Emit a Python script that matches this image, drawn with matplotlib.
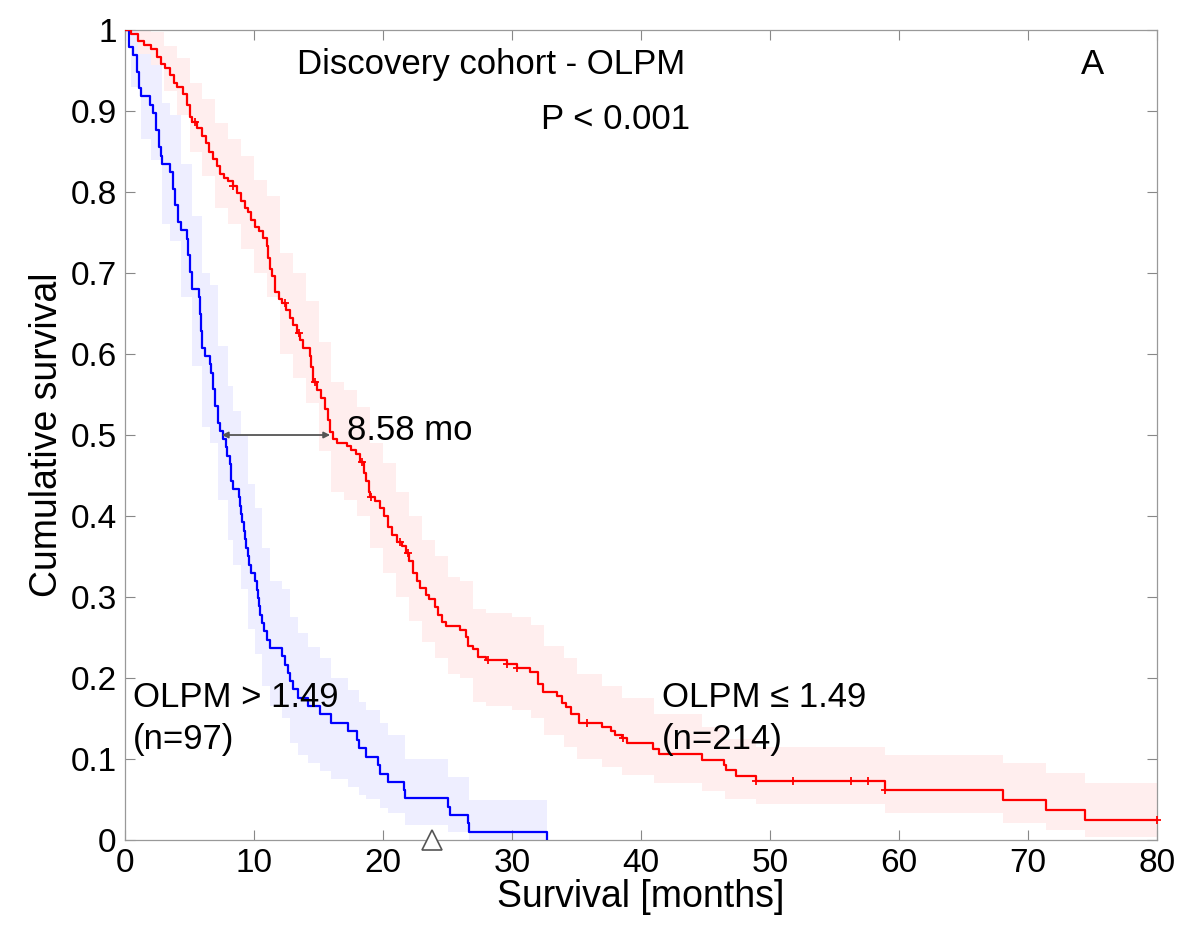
import numpy as np
import matplotlib
matplotlib.use("Agg")
import matplotlib.pyplot as plt

plt.rcParams['font.family'] = ['Liberation Sans', 'DejaVu Sans']

# ---- data ----
blue_t = [0, 0.3, 0.6, 0.9, 1.1, 1.2, 1.9, 2.2, 2.4, 2.6, 2.8, 2.9, 3.5, 3.7, 3.9, 4.1, 4.3,
          4.8, 4.9, 5.0, 5.2, 5.7, 5.8, 5.9, 6.0, 6.2, 6.6, 6.7, 6.8, 7.0, 7.2, 7.4, 7.6, 7.8,
          7.9, 8.1, 8.2, 8.4, 8.8, 8.9, 9.0, 9.1, 9.2, 9.3, 9.4, 9.5, 9.6, 9.8, 10.1, 10.2,
          10.3, 10.4, 10.5, 10.6, 10.8, 11.0, 11.2, 12.2, 12.4, 12.6, 12.8, 13.0, 13.4, 14.2,
          15.1, 16.0, 17.3, 18.0, 18.1, 18.7, 19.6, 19.8, 20.4, 21.6, 21.7, 25.0, 25.2, 26.6,
          26.7, 32.7]
blue_s = [1.0, 0.979, 0.969, 0.948, 0.928, 0.918, 0.907, 0.897, 0.876, 0.856, 0.845, 0.835,
          0.825, 0.804, 0.784, 0.763, 0.753, 0.742, 0.722, 0.701, 0.680, 0.670, 0.649, 0.629,
          0.608, 0.598, 0.588, 0.577, 0.557, 0.536, 0.515, 0.505, 0.495, 0.485, 0.474, 0.464,
          0.443, 0.433, 0.423, 0.412, 0.402, 0.392, 0.381, 0.371, 0.361, 0.351, 0.340, 0.330,
          0.320, 0.309, 0.299, 0.289, 0.278, 0.268, 0.258, 0.247, 0.237, 0.227, 0.216, 0.206,
          0.196, 0.186, 0.175, 0.165, 0.155, 0.144, 0.134, 0.124, 0.113, 0.103, 0.093, 0.082,
          0.072, 0.062, 0.052, 0.041, 0.031, 0.021, 0.010, 0.0]

blue_band_t = [0, 0.5, 1.2, 2.0, 2.9, 3.5, 4.3, 5.2, 6.0, 6.6, 7.2, 8.0, 8.4, 9.0, 9.5, 10.1,
               10.6, 11.2, 12.2, 12.8, 13.4, 14.2, 15.1, 16.0, 17.3, 18.1, 18.7, 19.8, 20.4,
               21.7, 25.0, 26.7, 32.7]
blue_band_lo = [1.0, 0.93, 0.865, 0.84, 0.76, 0.74, 0.67, 0.585, 0.51, 0.49, 0.42, 0.37, 0.34,
                0.31, 0.26, 0.23, 0.19, 0.165, 0.15, 0.12, 0.105, 0.095, 0.085, 0.075, 0.065,
                0.055, 0.05, 0.04, 0.033, 0.018, 0.01, 0.0, 0.0]
blue_band_hi = [1.0, 1.0, 0.97, 0.96, 0.91, 0.895, 0.835, 0.77, 0.70, 0.685, 0.61, 0.56, 0.53,
                0.50, 0.44, 0.41, 0.36, 0.32, 0.31, 0.275, 0.255, 0.238, 0.225, 0.20, 0.185,
                0.17, 0.16, 0.145, 0.13, 0.10, 0.078, 0.049, 0.049]

red_t = [0, 0.5, 1.0, 1.5, 2.0, 2.5, 2.8, 3.1, 3.5, 3.8, 4.0, 4.5, 4.8, 5.0, 5.2, 5.6, 6.0, 6.3,
         6.5, 6.8, 7.1, 7.4, 7.7, 8.0, 8.4, 8.7, 9.0, 9.3, 9.5, 9.8, 10.1, 10.4, 10.7, 11.0, 11.1,
         11.2, 11.4, 11.6, 11.9, 12.2, 12.5, 12.8, 13.0, 13.3, 13.6, 13.8, 14.3, 14.4, 14.6,
         14.9, 15.2, 15.5, 15.7, 15.9, 16.1, 16.4, 17.2, 17.5, 17.9, 18.2, 18.5, 18.7, 18.9,
         19.0, 19.4, 19.8, 20.1, 20.4, 20.7, 21.1, 21.5, 21.8, 22.0, 22.3, 22.6, 22.9, 23.3,
         23.6, 24.0, 24.3, 24.6, 24.9, 26.0, 26.4, 26.6, 27.0, 27.4, 28.0, 29.6, 30.4, 31.4,
         32.0, 32.4, 33.5, 33.9, 34.2, 34.6, 35.2, 37.0, 37.7, 38.0, 38.5, 38.9, 40.9, 41.4,
         44.7, 46.4, 46.6, 47.4, 48.9, 58.9, 68.1, 71.4, 74.4, 80.0]
red_s = [1.0, 0.995, 0.986, 0.981, 0.977, 0.967, 0.958, 0.953, 0.944, 0.935, 0.930, 0.921,
         0.907, 0.893, 0.886, 0.879, 0.869, 0.860, 0.850, 0.841, 0.832, 0.822, 0.817, 0.813,
         0.808, 0.799, 0.789, 0.780, 0.775, 0.766, 0.757, 0.752, 0.743, 0.733, 0.719, 0.705,
         0.696, 0.677, 0.668, 0.663, 0.654, 0.645, 0.636, 0.626, 0.617, 0.608, 0.598, 0.584,
         0.565, 0.556, 0.546, 0.532, 0.518, 0.504, 0.495, 0.490, 0.486, 0.481, 0.476, 0.467,
         0.453, 0.443, 0.430, 0.424, 0.419, 0.410, 0.400, 0.386, 0.377, 0.368, 0.363, 0.354,
         0.344, 0.330, 0.320, 0.311, 0.302, 0.297, 0.288, 0.278, 0.269, 0.264, 0.259, 0.250,
         0.240, 0.236, 0.226, 0.222, 0.217, 0.212, 0.207, 0.193, 0.183, 0.178, 0.169, 0.164,
         0.155, 0.145, 0.140, 0.134, 0.130, 0.126, 0.120, 0.112, 0.106, 0.099, 0.092, 0.086,
         0.079, 0.073, 0.062, 0.049, 0.037, 0.025, 0.025]
red_censor_t = [5.4, 8.4, 12.4, 13.5, 14.7, 18.4, 19.1, 21.3, 21.9, 28.1, 29.6, 30.4, 35.8,
                38.6, 48.9, 51.8, 56.3, 57.6, 58.9, 80.0]

red_band_t = [0, 1, 2, 3, 4, 5, 6, 7, 8, 9, 10, 11, 12, 13, 14, 15, 16, 17, 18, 19, 20, 21, 22,
              23, 24, 25, 26, 27, 28, 30, 31.5, 32.5, 34, 35, 37, 38.5, 41, 44.7, 46.5, 48.9,
              58.9, 68.1, 71.4, 74.4, 80]
red_band_lo = [1.0, 0.97, 0.957, 0.925, 0.895, 0.85, 0.82, 0.78, 0.76, 0.73, 0.70, 0.67, 0.60,
               0.57, 0.54, 0.48, 0.43, 0.42, 0.40, 0.36, 0.33, 0.30, 0.27, 0.245, 0.225, 0.205,
               0.20, 0.17, 0.165, 0.16, 0.15, 0.13, 0.115, 0.10, 0.09, 0.08, 0.07, 0.06, 0.05,
               0.045, 0.033, 0.021, 0.012, 0.004, 0.004]
red_band_hi = [1.0, 1.0, 0.997, 0.98, 0.965, 0.935, 0.915, 0.885, 0.865, 0.845, 0.815, 0.795,
               0.725, 0.70, 0.665, 0.615, 0.565, 0.555, 0.535, 0.49, 0.465, 0.43, 0.40, 0.37,
               0.35, 0.325, 0.32, 0.285, 0.28, 0.275, 0.265, 0.24, 0.225, 0.205, 0.19, 0.175,
               0.155, 0.14, 0.125, 0.115, 0.105, 0.095, 0.083, 0.07, 0.07]

median_blue = 7.5
median_red = 15.9
median_label = "8.58 mo"

xticks = [0, 10, 20, 30, 40, 50, 60, 70, 80]
yticks = [0, 0.1, 0.2, 0.3, 0.4, 0.5, 0.6, 0.7, 0.8, 0.9, 1.0]
ytick_labels = ['0', '0.1', '0.2', '0.3', '0.4', '0.5', '0.6', '0.7', '0.8', '0.9', '1']

TXT = 25

# ---- figure ----
fig = plt.figure(figsize=(11.83, 9.30), dpi=100)
ax = fig.add_axes([0.1057, 0.0968, 0.978 - 0.1057, 0.9677 - 0.0968])

ax.fill_between(blue_band_t, blue_band_lo, blue_band_hi, step='post',
                color='#eeeeff', lw=0, zorder=1)
ax.fill_between(red_band_t, red_band_lo, red_band_hi, step='post',
                color='#ffeeee', lw=0, zorder=1)

ax.step(blue_t, blue_s, where='post', color='#0000ff', lw=1.6, zorder=3)
ax.step(red_t, red_s, where='post', color='#ff0000', lw=1.6, zorder=3)

rt = np.array(red_t)
rs = np.array(red_s)
idx = np.searchsorted(rt, red_censor_t, side='right') - 1
ax.plot(red_censor_t, rs[idx], linestyle='none', marker='+', color='#ff0000',
        markersize=6, mew=1.3, zorder=4, clip_on=False)

# median arrow
ax.annotate('', xy=(median_blue, 0.5), xytext=(median_red, 0.5),
            arrowprops=dict(arrowstyle='<|-|>', color='#555555', lw=1.3,
                            mutation_scale=9, shrinkA=0, shrinkB=0), zorder=5)
ax.text(median_red + 1.3, 0.505, median_label, fontsize=TXT, va='center', ha='left')

# texts
ax.text(28.4, 0.957, 'Discovery cohort - OLPM', fontsize=TXT, ha='center', va='center')
ax.text(38.0, 0.889, 'P < 0.001', fontsize=TXT, ha='center', va='center')
ax.text(75.0, 0.957, 'A', fontsize=TXT, ha='center', va='center')
ax.text(0.6, 0.176, 'OLPM > 1.49', fontsize=TXT, ha='left', va='center')
ax.text(0.6, 0.124, '(n=97)', fontsize=TXT, ha='left', va='center')
ax.text(41.6, 0.176, 'OLPM \u2264 1.49', fontsize=TXT, ha='left', va='center')
ax.text(41.6, 0.124, '(n=214)', fontsize=TXT, ha='left', va='center')

ax.plot([23.8], [0.0], marker='^', markersize=14, mfc='white', mec='#555555', mew=1.2,
        clip_on=False, zorder=6)

ax.set_xlim(0, 80)
ax.set_ylim(0, 1)
ax.set_xticks(xticks)
ax.set_xticklabels([str(v) for v in xticks])
ax.set_yticks(yticks)
ax.set_yticklabels(ytick_labels)
ax.tick_params(direction='in', length=7, width=0.8, color='#888888', labelsize=24,
               top=True, right=True, pad=6)
for sp in ax.spines.values():
    sp.set_color('#999999')
    sp.set_linewidth(0.9)

ax.set_xlabel('Survival [months]', fontsize=27, labelpad=0)
ax.set_ylabel('Cumulative survival', fontsize=27, labelpad=4)

fig.savefig('out.png', dpi=100, facecolor='white')
